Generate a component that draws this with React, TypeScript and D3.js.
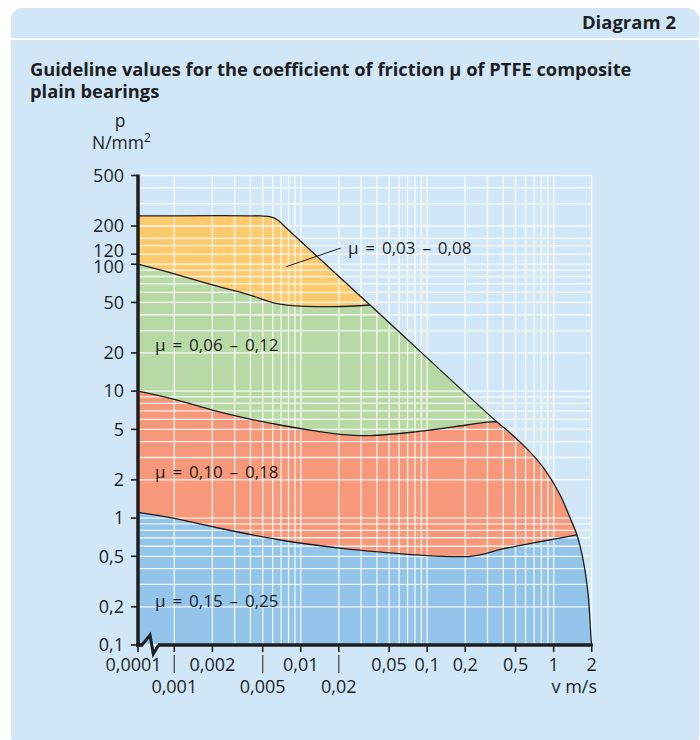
import React from 'react';
import * as d3 from 'd3';

// ---- data (v in m/s, p in N/mm²) ----
const envelope: [number, number][] = [
  [0.0001, 240], [0.0048, 240], [0.0058, 236], [0.0066, 222], [0.0075, 197],
  [0.0353, 47.7], [0.355, 5.74], [0.453, 4.68], [0.652, 3.31], [0.857, 2.39],
  [1.126, 1.52], [1.351, 1.0], [1.53, 0.736], [1.712, 0.467], [1.875, 0.248],
  [1.98, 0.11], [2, 0.1],
];
const boundaryOrangeGreen: [number, number][] = [
  [0.0001, 100], [0.001, 84], [0.002, 68.6], [0.00374, 58.2], [0.0061, 49.7],
  [0.0078, 47.7], [0.018, 46.3], [0.0353, 47.7],
];
const boundaryGreenRed: [number, number][] = [
  [0.0001, 10], [0.001, 8.63], [0.002, 7.1], [0.00374, 6.11], [0.00686, 5.41],
  [0.0126, 4.88], [0.0204, 4.57], [0.0353, 4.46], [0.0827, 4.79], [0.206, 5.41],
  [0.3, 5.7], [0.355, 5.74],
];
const boundaryRedBlue: [number, number][] = [
  [0.0001, 1.11], [0.001, 0.995], [0.002, 0.855], [0.00686, 0.672], [0.022, 0.575],
  [0.045, 0.537], [0.0827, 0.512], [0.152, 0.497], [0.22, 0.5], [0.29, 0.525],
  [0.38, 0.566], [0.5, 0.598], [0.692, 0.637], [1.06, 0.69], [1.53, 0.736],
];

const yTicks = [500, 200, 120, 100, 50, 20, 10, 5, 2, 1, 0.5, 0.2, 0.1];
const yTickLabels = ['500', '200', '120', '100', '50', '20', '10', '5', '2', '1', '0,5', '0,2', '0,1'];
const xTicksRow1 = [0.0001, 0.002, 0.01, 0.05, 0.1, 0.2, 0.5, 1, 2];
const xLabelsRow1 = ['0,0001', '0,002', '0,01', '0,05', '0,1', '0,2', '0,5', '1', '2'];
const xTicksRow2 = [0.001, 0.005, 0.02];
const xLabelsRow2 = ['0,001', '0,005', '0,02'];

const xGrid = [
  0.001, 0.002, 0.003, 0.004, 0.005, 0.006, 0.007, 0.008, 0.009,
  0.01, 0.02, 0.03, 0.04, 0.05, 0.06, 0.07, 0.08, 0.09,
  0.1, 0.2, 0.3, 0.4, 0.5, 0.6, 0.7, 0.8, 0.9, 1, 2,
];
const yGrid = [
  0.1, 0.2, 0.3, 0.4, 0.5, 0.6, 0.7, 0.8, 0.9,
  1, 2, 3, 4, 5, 6, 7, 8, 9,
  10, 20, 30, 40, 50, 60, 70, 80, 90,
  100, 120, 140, 160, 200, 300, 400, 500,
];

const regionLabels = ['μ = 0,03 – 0,08', 'μ = 0,06 – 0,12', 'μ = 0,10 – 0,18', 'μ = 0,15 – 0,25'];
// label anchors in data units [v, p]
const regionLabelAnchors: [number, number][] = [[0.0236, 121], [0.0001, 20.7], [0.0001, 2.07], [0.0001, 0.2]];
const leader: [number, number][] = [[0.0077, 95.7], [0.0207, 134]];

const COLORS = {
  panel: '#d1e7f7',
  orange: '#ffca6e',
  green: '#b8d9a5',
  red: '#f7987b',
  blue: '#93c4e9',
  ink: '#1e1e1e',
};

const FONT = "'Open Sans', 'Noto Sans', sans-serif";

export default function App() {
  const xMain = d3.scaleLog().domain([0.001, 2]).range([174.3, 591.7]);
  const xBreak = d3.scaleLog().domain([0.0001, 0.001]).range([138, 174.3]);
  const x = (v: number) => (v < 0.001 ? xBreak(v) : xMain(v));
  const y = d3.scaleLog().domain([0.1, 500]).range([645, 175.5]);

  const line = d3
    .line<[number, number]>()
    .x((d) => x(d[0]))
    .y((d) => y(d[1]))
    .curve(d3.curveCatmullRom.alpha(0.5));

  const x0 = x(0.0001);
  const x1 = x(2);
  const yBottom = y(0.1);
  const yTop = y(500);

  const envPath = line(envelope) as string;
  const envArea = `${envPath}L${x1},${yBottom}L${x0},${yBottom}Z`;
  const below = (pts: [number, number][]) => {
    const last = pts[pts.length - 1];
    return `${line(pts)}L${x1 + 6},${y(last[1])}L${x1 + 6},${yBottom}L${x0},${yBottom}Z`;
  };

  return (
    <svg
      width={700}
      height={740}
      style={{ position: 'absolute', left: 0, top: 0, fontFamily: FONT }}
    >
      <defs>
        <clipPath id="envClip">
          <path d={envArea} />
        </clipPath>
      </defs>
      <rect x={0} y={0} width={700} height={740} fill="#ffffff" />
      <rect x={11} y={8} width={688} height={740} rx={12} fill={COLORS.panel} />
      <line x1={11} x2={699} y1={39} y2={39} stroke="#ffffff" strokeWidth={2} />
      <text x={676} y={29} textAnchor="end" fontSize={18.5} fontWeight={700} fill={COLORS.ink}>
        Diagram 2
      </text>
      <text x={30} y={76} fontSize={18.3} fontWeight={700} fill={COLORS.ink}>
        Guideline values for the coefficient of friction μ of PTFE composite
      </text>
      <text x={30} y={98} fontSize={18.3} fontWeight={700} fill={COLORS.ink}>
        plain bearings
      </text>

      {/* axis title */}
      <text x={120} y={127} textAnchor="middle" fontSize={17.5} fill={COLORS.ink}>p</text>
      <text x={92} y={149} fontSize={17.5} fill={COLORS.ink}>
        N/mm<tspan fontSize={12} dy={-7}>2</tspan>
      </text>

      {/* regions */}
      <g clipPath="url(#envClip)">
        <path d={envArea} fill={COLORS.orange} />
        <path d={below(boundaryOrangeGreen)} fill={COLORS.green} />
        <path d={below(boundaryGreenRed)} fill={COLORS.red} />
        <path d={below(boundaryRedBlue)} fill={COLORS.blue} />
      </g>

      {/* grid */}
      <g stroke="#ffffff" strokeWidth={1.3} strokeOpacity={0.85}>
        {yGrid.map((p) => (
          <line key={'h' + p} x1={x0} x2={x1} y1={y(p)} y2={y(p)} />
        ))}
        {xGrid.map((v) => (
          <line key={'v' + v} x1={x(v)} x2={x(v)} y1={yTop} y2={yBottom} />
        ))}
      </g>

      {/* boundaries */}
      <g fill="none" stroke={COLORS.ink} strokeWidth={1.3}>
        <path d={envPath} />
        <path d={line(boundaryOrangeGreen) as string} />
        <path d={line(boundaryGreenRed) as string} />
        <path d={line(boundaryRedBlue) as string} />
        <line
          x1={x(leader[0][0])}
          y1={y(leader[0][1])}
          x2={x(leader[1][0])}
          y2={y(leader[1][1])}
          strokeWidth={1}
        />
      </g>

      {/* region labels */}
      {regionLabels.map((t, i) => (
        <text
          key={t}
          x={x(regionLabelAnchors[i][0]) + (i === 0 ? 0 : 17)}
          y={y(regionLabelAnchors[i][1])}
          fontSize={17}
          wordSpacing={2.5}
          fill={COLORS.ink}
        >
          {t}
        </text>
      ))}

      {/* axes */}
      <g stroke={COLORS.ink}>
        <line x1={x0} x2={x0} y1={yTop - 1} y2={yBottom + 2} strokeWidth={3.5} />
        <line x1={x0 - 2} x2={143} y1={yBottom} y2={yBottom} strokeWidth={3.5} />
        <line x1={158} x2={x1 + 1} y1={yBottom} y2={yBottom} strokeWidth={3.5} />
        <polyline
          points={`142,${yBottom} 150,${yBottom - 10} 153.3,${yBottom + 9} 158.5,${yBottom}`}
          fill="none"
          strokeWidth={3}
          strokeLinejoin="miter"
        />
        {yTicks.map((p) => (
          <line key={'yt' + p} x1={x0 - 7} x2={x0} y1={y(p)} y2={y(p)} strokeWidth={1.6} />
        ))}
        {[...xTicksRow1, ...xTicksRow2].map((v) => (
          <line key={'xt' + v} x1={x(v)} x2={x(v)} y1={yBottom} y2={yBottom + 7} strokeWidth={1.6} />
        ))}
        {xTicksRow2.map((v) => (
          <line key={'xc' + v} x1={x(v)} x2={x(v)} y1={yBottom + 10} y2={yBottom + 28} strokeWidth={1.4} stroke="#555" />
        ))}
      </g>

      {/* tick labels */}
      <g fontSize={18} fill={COLORS.ink}>
        {yTicks.map((p, i) => (
          <text
            key={'yl' + p}
            x={124}
            y={y(p) + (p === 120 ? -3.8 : p === 100 ? 2.8 : 0)}
            dy="0.35em"
            textAnchor="end"
          >
            {yTickLabels[i]}
          </text>
        ))}
        {xTicksRow1.map((v, i) => (
          <text key={'xl' + v} x={x(v) + (i === 0 ? -4.5 : 0)} y={671} textAnchor="middle">
            {xLabelsRow1[i]}
          </text>
        ))}
        {xTicksRow2.map((v, i) => (
          <text key={'xl2' + v} x={x(v)} y={693} textAnchor="middle">
            {xLabelsRow2[i]}
          </text>
        ))}
        <text x={597} y={693} textAnchor="end">v m/s</text>
      </g>
    </svg>
  );
}
